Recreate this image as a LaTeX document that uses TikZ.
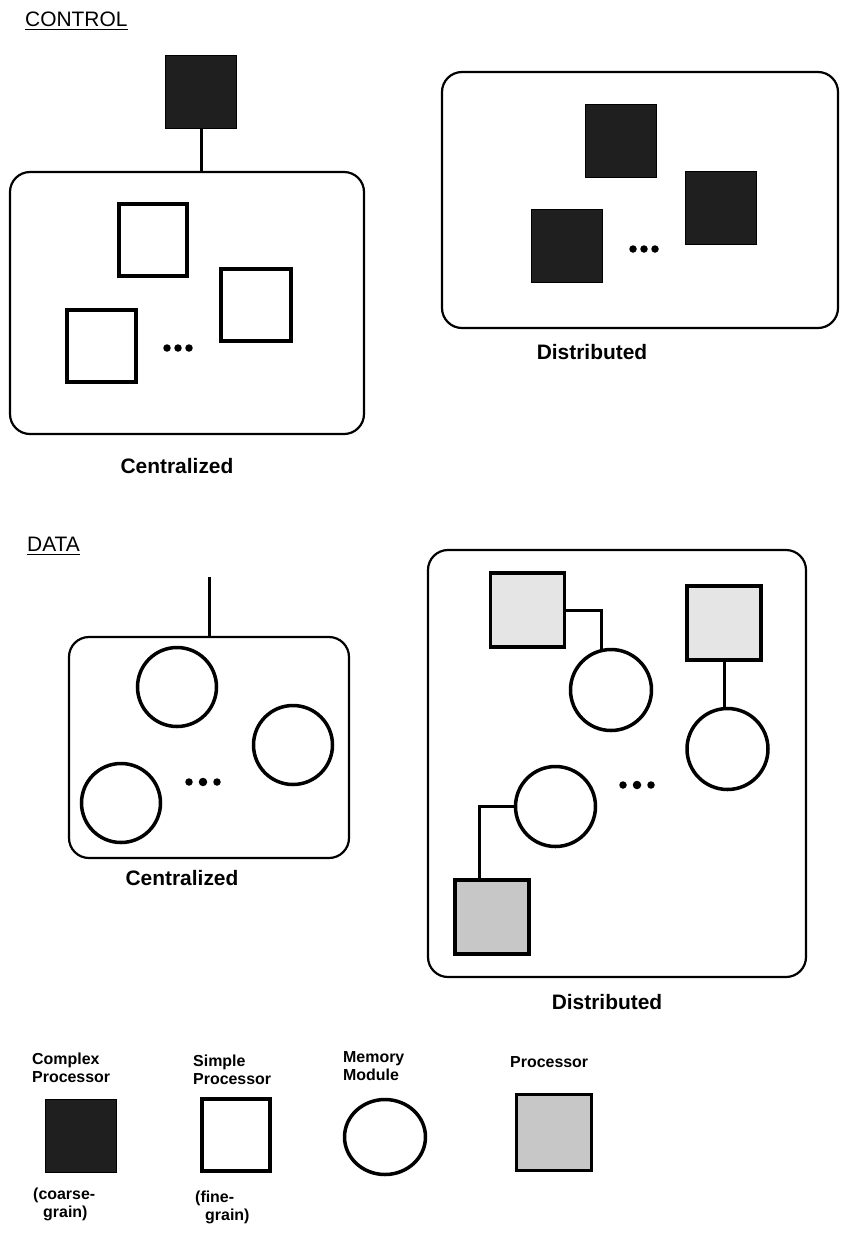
\documentclass[tikz,border=0pt]{standalone}
\usepackage{fontspec}
\setmainfont{Liberation Sans}
\usetikzlibrary{shapes.geometric}
\begin{document}
\begin{tikzpicture}[x=1bp,y=-1bp,
  region/.style={draw, line width=2.2bp, rounded corners=20bp, inner sep=0pt},
  cplx/.style={draw=black, fill=black!88, line width=1bp, minimum width=71bp, minimum height=73bp, inner sep=0pt},
  simp/.style={draw, line width=4bp, fill=white, minimum width=68bp, minimum height=72bp, inner sep=0pt},
  procA/.style={draw, line width=3.5bp, fill=black!10, minimum width=74bp, minimum height=74bp, inner sep=0pt},
  procB/.style={procA, fill=black!22},
  mem/.style={draw, circle, line width=3.5bp, minimum size=79bp, inner sep=0pt},
  conn/.style={line width=3bp},
  lbl/.style={font=\fontsize{21}{24}\selectfont\bfseries, inner sep=0pt},
  ttl/.style={font=\fontsize{21}{24}\selectfont, inner sep=0pt},
  leg/.style={font=\fontsize{16}{18}\selectfont\bfseries, align=left, inner sep=0pt, anchor=north west},
  dotm/.style={circle, fill, inner sep=0pt, minimum size=7.5bp}
]
\useasboundingbox[fill=white] (0,0) rectangle (843,1235);

% ---------- CONTROL ----------
\node[ttl, anchor=south west] (ctl) at (25,27) {CONTROL};
\draw[line width=1.6bp] ([yshift=-2.5bp]ctl.south west) -- ([yshift=-2.5bp]ctl.south east);

% centralized
\node[cplx] (cp0) at (201,92) {};
\node[region, minimum width=354bp, minimum height=262bp] (cbox) at (187,303) {};
\draw[conn] (cp0.south) -- (cp0.south |- cbox.north);
\node[simp] (sp1) at (153,239.5) {};
\node[simp, minimum width=70bp] (sp2) at (256,305) {};
\node[simp, minimum width=69bp] (sp3) at (101.5,345.5) {};
\node[dotm] (cd1) at (167,348) {};
\node[dotm] (cd2) at (178,348) {};
\node[dotm] (cd3) at (189,348) {};
\node[lbl] (clab) at (177,466) {Centralized};

% distributed
\node[region, minimum width=396bp, minimum height=256bp] (dbox) at (640,200) {};
\node[cplx] (cpA) at (620.5,140.5) {};
\node[cplx] (cpB) at (720.5,207.5) {};
\node[cplx] (cpC) at (567,245.5) {};
\node[dotm] (dd1) at (633,249) {};
\node[dotm] (dd2) at (644,249) {};
\node[dotm] (dd3) at (655,249) {};
\node[lbl] (dlab) at (592,352) {Distributed};

% ---------- DATA ----------
\node[ttl, anchor=south west] (dat) at (27,552) {DATA};
\draw[line width=1.6bp] ([yshift=-2.5bp]dat.south west) -- ([yshift=-2.5bp]dat.south east);

% centralized
\coordinate (dtop) at (209,577);
\node[region, minimum width=280bp, minimum height=221bp] (ccbox) at (209,747.5) {};
\draw[conn] (dtop) -- (ccbox.north);
\node[mem] (c1) at (177,687) {};
\node[mem] (c2) at (293,745) {};
\node[mem] (c3) at (121,803) {};
\node[dotm] (ed1) at (189,782) {};
\node[dotm, minimum size=8.5bp] (ed2) at (203,782) {};
\node[dotm] (ed3) at (217,782) {};
\node[lbl] (cclab) at (182,878) {Centralized};

% distributed
\node[region, minimum width=378bp, minimum height=427bp] (ddbox) at (617,763.5) {};
\node[procA] (P1) at (527.5,610) {};
\node[procA] (P2) at (724,623) {};
\node[procB] (P3) at (492,917) {};
\node[mem, minimum size=81bp] (M1) at (611,690) {};
\node[mem, minimum size=81bp] (M2) at (727.5,749) {};
\node[mem, minimum size=80bp] (M3) at (555.5,806.5) {};
\draw[conn] (P1.east) -| (M1.103);
\draw[conn] (P2.south) -- (P2.south |- M2.north);
\draw[conn] (M3.west) -| ([xshift=-13bp]P3.north);
\node[dotm] (fd1) at (623,785) {};
\node[dotm, minimum size=8.5bp] (fd2) at (637,785) {};
\node[dotm] (fd3) at (651,785) {};
\node[lbl] (ddlab) at (607,1002) {Distributed};

% ---------- LEGEND ----------
\node[leg] (lt1) at (32,1053) {Complex\\Processor};
\node[cplx] (lcp) at (81,1136) {};
\node[leg] (lg1) at (33,1188) {(coarse-\\\hspace*{10bp}grain)};

\node[leg] (lt2) at (193,1055) {Simple\\Processor};
\node[simp] (lsp) at (236,1135) {};
\node[leg] (lg2) at (195,1191) {(fine-\\\hspace*{10bp}grain)};

\node[leg] (lt3) at (343,1051) {Memory\\Module};
\node[draw, ellipse, line width=3.5bp, minimum width=81bp, minimum height=75bp, inner sep=0pt] (lmm) at (385,1137) {};

\node[leg] (lt4) at (510,1056) {Processor};
\node[procB, minimum width=75bp, minimum height=76bp] (lpr) at (554,1132.5) {};
\end{tikzpicture}
\end{document}
